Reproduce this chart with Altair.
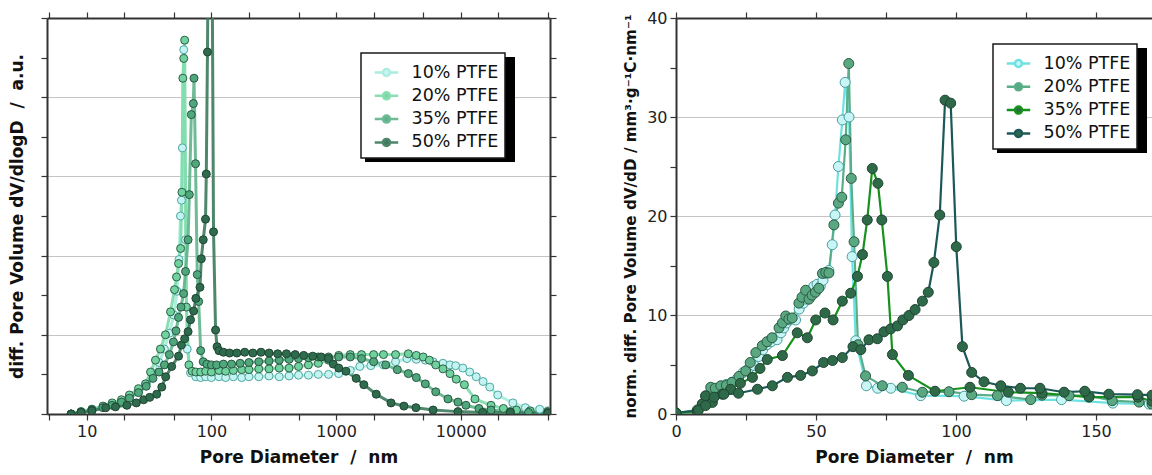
import altair as alt
import pandas as pd

SERIES = ["10% PTFE", "20% PTFE", "35% PTFE", "50% PTFE"]

# ---------------- left panel: dV/dlogD (a.u.) vs pore diameter (nm, log) ----------------
L10_D = [7.5, 9, 11, 13.5, 16, 19, 22, 26, 30, 34, 38, 42, 46, 50, 53, 55, 56.5, 57.5, 58.5, 60,
         62, 64, 68, 75, 82, 90, 100, 115, 130, 150, 175, 200, 240, 290, 350, 420, 500, 600, 720, 870,
         1050, 1300, 1550, 1900, 2400, 3000, 3700, 4400, 5200, 6000, 7200, 8200, 9100, 10400, 11800,
         13300, 15100, 17100, 19800, 26200, 33000, 43000, 50000]
L10_V = [0.0, 0.03, 0.06, 0.09, 0.12, 0.15, 0.2, 0.28, 0.38, 0.5, 0.65, 0.82, 1.02, 1.25, 1.55, 1.95,
         2.5, 2.7, 3.36, 4.6, 2.2, 0.82, 0.52, 0.47, 0.46, 0.47, 0.46, 0.47, 0.46, 0.47, 0.46, 0.47,
         0.47, 0.48, 0.47, 0.48, 0.49, 0.49, 0.5, 0.5, 0.51, 0.55, 0.6, 0.61, 0.62, 0.66, 0.70, 0.69,
         0.68, 0.66, 0.64, 0.62, 0.61, 0.58, 0.53, 0.47, 0.41, 0.34, 0.24, 0.14, 0.08, 0.06, 0.04]

L20_D = [7.5, 9, 11, 13.5, 16, 19, 22, 26, 29.6, 32.5, 35.6, 39, 42.8, 47, 50.6, 52.5, 54.5, 56.6, 58,
         59, 60, 61, 63, 66, 70, 75, 82, 90, 100, 115, 130, 150, 175, 200, 240, 290, 350, 420, 500,
         600, 720, 870, 1050, 1300, 1600, 2000, 2400, 3000, 3800, 4400, 5000, 5600, 6300, 7200, 8200,
         9200, 10700, 13000, 17500, 22000, 28000, 36000, 50000]
L20_V = [0.0, 0.03, 0.06, 0.1, 0.14, 0.18, 0.24, 0.32, 0.38, 0.53, 0.68, 0.82, 1.0, 1.29, 1.57, 1.73,
         1.9, 2.09, 2.8, 4.24, 4.49, 4.72, 1.35, 0.62, 0.54, 0.53, 0.53, 0.54, 0.53, 0.55, 0.54, 0.55,
         0.56, 0.56, 0.57, 0.57, 0.58, 0.58, 0.6, 0.62, 0.64, 0.68, 0.74, 0.75, 0.75, 0.75, 0.75,
         0.75, 0.76, 0.74, 0.72, 0.68, 0.62, 0.57, 0.51, 0.44, 0.37, 0.19, 0.11, 0.07, 0.05, 0.04, 0.03]

L35_D = [7.5, 9, 11, 13.5, 16, 19, 22, 26, 30, 34, 38, 42, 46, 49.6, 52, 54.5, 57, 59.8, 62, 65,
         66.5, 69, 71.6, 72.5, 74.6, 77, 79, 82, 86, 92, 100, 110, 125, 145, 170, 200, 240, 290, 350,
         420, 500, 600, 720, 870, 1050, 1300, 1600, 2000, 2500, 3100, 3800, 4400, 5200, 6300, 7900,
         9500, 11000, 14000, 17500, 25000, 35000, 50000]
L35_V = [0.0, 0.02, 0.05, 0.08, 0.11, 0.15, 0.2, 0.27, 0.35, 0.45, 0.53, 0.62, 0.75, 0.91, 1.05,
         1.22, 1.35, 1.52, 1.8, 2.2, 2.77, 3.78, 3.92, 4.24, 3.16, 1.76, 1.42, 0.8, 0.66, 0.63, 0.62,
         0.62, 0.63, 0.63, 0.64, 0.65, 0.66, 0.67, 0.68, 0.69, 0.7, 0.71, 0.72, 0.72, 0.72, 0.72, 0.7,
         0.66, 0.62, 0.56, 0.51, 0.46, 0.38, 0.28, 0.19, 0.15, 0.11, 0.07, 0.05, 0.03, 0.02, 0.02]

L50_D = [7.5, 9, 11, 14.2, 17, 21, 25, 28.6, 32, 36.4, 40, 43, 48, 54.5, 57.5, 61, 65, 68, 72, 75,
         81, 83, 86, 89.7, 91, 93, 96, 100, 104, 108, 111, 115, 125, 140, 160, 185, 215, 250, 290,
         340, 400, 470, 550, 650, 760, 870, 950, 1050, 1200, 1450, 1670, 2100, 2760, 3500, 4370,
         6000, 9500, 15000, 25000, 50000]
L50_V = [0.0, 0.02, 0.04, 0.08, 0.09, 0.11, 0.14, 0.18, 0.21, 0.25, 0.34, 0.47, 0.6, 0.73, 0.87,
         0.95, 1.04, 1.19, 1.3, 1.46, 1.6, 1.96, 2.2, 2.46, 3.03, 4.57, 7.5, 7.5, 2.3, 1.06, 0.85,
         0.8, 0.78, 0.77, 0.77, 0.78, 0.77, 0.78, 0.77, 0.76, 0.76, 0.75, 0.74, 0.73, 0.72, 0.7,
         0.63, 0.58, 0.54, 0.45, 0.37, 0.25, 0.14, 0.1, 0.08, 0.05, 0.03, 0.02, 0.02, 0.01]

# ---------------- right panel: dV/dD (mm3 g-1 nm-1) vs pore diameter (nm, linear) ----------------
R10_D = [0, 7.6, 10, 12, 14, 16, 18, 20, 22, 24, 26, 27.9, 29.5, 31, 32.5, 34, 36.1, 37.5, 38.5,
         39.5, 40.5, 42.7, 44, 45.5, 46.5, 48, 49.2, 50.4, 51.5, 52.5, 53.5, 54.6, 55.8, 56.8, 58,
         59.4, 60.4, 61.8, 62.9, 64.2, 68, 72, 76.7, 87.4, 102.9, 118, 137.7, 156, 169]
R10_V = [0.1, 0.3, 1.0, 2.0, 2.5, 2.8, 3.0, 3.2, 3.6, 4.2, 4.6, 4.9, 5.8, 6.5, 7.0, 7.3, 7.5, 8.2,
         8.7, 9.2, 9.5, 9.5, 10.6, 11.2, 11.6, 12.5, 12.9, 13.1, 12.9, 13.5, 14.2, 14.5, 17.1, 20.1,
         25.0, 29.7, 33.5, 30.0, 15.9, 7.4, 2.85, 2.6, 2.6, 1.85, 1.8, 1.35, 1.45, 1.1, 1.0]

R20_D = [0, 7.6, 9.4, 10.6, 12.4, 14, 16, 18, 20, 22.5, 24.9, 26.5, 28.5, 30.8, 32.5, 34.3, 36.8,
         38, 39.2, 40.3, 41.5, 43.9, 45, 46.3, 47.5, 48.6, 49.8, 51, 52.3, 53.5, 54.6, 56.4, 58.0,
         59.2, 60.6, 61.7, 62.6, 63.6, 65, 67.7, 73.7, 80.8, 88, 97.5, 105.6, 114.8, 126.7, 130.7,
         140.4, 147.5, 155.8, 165.4, 170]
R20_V = [0.1, 0.4, 1.0, 1.8, 2.7, 2.6, 2.85, 2.9, 3.2, 3.8, 4.35, 5.2, 6.2, 6.9, 7.3, 7.7, 8.7,
         9.2, 9.9, 9.6, 9.7, 11.2, 11.8, 12.5, 11.6, 12.0, 12.3, 12.7, 14.2, 14.3, 14.25, 19.1,
         21.3, 21.9, 27.7, 35.4, 23.8, 17.4, 7.0, 3.85, 2.85, 2.7, 2.2, 2.25, 1.95, 1.85, 1.45, 1.9,
         1.85, 1.85, 1.35, 1.2, 1.0]

R35_D = [0, 7.6, 9.4, 10.6, 13, 16.5, 19.5, 23, 27.3, 30, 32.6, 38, 43.3, 46.9, 49.9, 53.2, 56.1,
         59.4, 62.4, 64.8, 66.6, 68.3, 70.1, 72.1, 73.5, 75.5, 77.3, 83, 92.5, 105, 118.7, 130.7,
         147.5, 165, 170]
R35_V = [0.1, 0.23, 1.0, 1.84, 1.17, 2.0, 2.5, 3.1, 3.7, 4.6, 5.5, 5.9, 8.2, 7.7, 9.5, 10.2, 9.5,
         11.4, 12.2, 13.9, 16.1, 19.6, 24.8, 23.3, 19.6, 13.9, 6.0, 3.9, 2.3, 2.7, 2.2, 2.1, 1.7,
         1.7, 1.3]

R50_D = [0, 8, 10.6, 13.6, 17.1, 22.3, 29.1, 34.4, 39.8, 44.5, 48.7, 52.7, 55.9, 59.4, 63.2, 66,
         68.9, 71.9, 74.3, 76.7, 79.1, 81, 83.2, 85.4, 88, 90.1, 92.1, 94.2, 96.1, 98.1, 100.1,
         102.3, 105.6, 110, 116, 123, 130, 138.6, 146, 154.6, 164.8, 170]
R50_V = [0.1, 0.4, 0.85, 1.7, 2.0, 2.1, 2.5, 2.85, 3.7, 3.9, 4.35, 5.2, 5.4, 5.7, 6.8, 6.5, 7.5,
         7.6, 8.3, 8.6, 8.9, 9.5, 9.95, 10.55, 11.4, 12.3, 15.3, 20.1, 31.7, 31.4, 16.9, 6.8, 4.2,
         3.25, 2.85, 2.6, 2.6, 2.2, 2.3, 2.0, 1.95, 1.9]

LX_TICKS = [5, 10, 20, 50, 100, 200, 500, 1000, 2000, 5000, 10000, 20000, 50000]
LY_TICKS = [0, 0.5, 1, 1.5, 2, 2.5, 3, 3.5, 4, 4.5, 5]
RX_TICKS = [0, 25, 50, 75, 100, 125, 150]
RY_TICKS = [0, 5, 10, 15, 20, 25, 30, 35, 40]

LEFT_LINE = ["#a4ecdc", "#7ddcaa", "#5eb489", "#3b7a5c"]
LEFT_FILL = ["#c4f4f2", "#70d29e", "#4fa87c", "#2f6c4d"]
LEFT_PSTROKE = ["#4fa8a2", "#2f6048", "#2a5642", "#1f4434"]
RIGHT_LINE = ["#6ee2e2", "#5aae8a", "#16921c", "#1d5858"]
RIGHT_FILL = ["#c8f6f6", "#5aa882", "#2f6a48", "#2e6a4a"]
RIGHT_PSTROKE = ["#4a9c9c", "#2a5a44", "#1f4432", "#1f4432"]

FONT = "DejaVu Sans"
SYMBOL = "M-1,0L-0.3,0M0.3,0L1,0M0.3,0A0.3,0.3 0 1 1 -0.3,0A0.3,0.3 0 1 1 0.3,0Z"


def long_frame(pairs):
    rows = []
    for name, (ds, vs) in zip(SERIES, pairs):
        for d, v in zip(ds, vs):
            rows.append({"series": name, "D": d, "V": v})
    return pd.DataFrame(rows)


left_df = long_frame([(L10_D, L10_V), (L20_D, L20_V), (L35_D, L35_V), (L50_D, L50_V)])
right_df = long_frame([(R10_D, R10_V), (R20_D, R20_V), (R35_D, R35_V), (R50_D, R50_V)])


def legend(x, y):
    return alt.Legend(orient="none", legendX=x, legendY=y, title=None, fillColor="white",
                      strokeColor="#1a1a1a", padding=6.5, labelFont=FONT, labelFontSize=17.5,
                      labelColor="#111111", symbolType=SYMBOL, symbolSize=550,
                      symbolStrokeWidth=2.5, rowPadding=1.3, labelOffset=12, symbolOffset=6,
                      labelExpr="datum.label + '\u00a0\u00a0\u00a0'")


def shadow(x, y, w, h):
    return alt.Chart(pd.DataFrame({"k": [0]})).mark_rect(color="#000000").encode(
        x=alt.value(x + 4), x2=alt.value(x + w + 4), y=alt.value(y + 4), y2=alt.value(y + h + 4))


NB = "\u00a0"
XTITLE = f"Pore Diameter{NB}{NB}/{NB}{NB}nm"
grid_int = {"condition": {"test": "datum.value % 1 === 0", "value": 1}, "value": 0}
grid_ten = {"condition": {"test": "datum.value % 10 === 0 && datum.value > 0 && datum.value < 40",
                          "value": 1}, "value": 0}

# ---------------- left chart ----------------
legL = legend(314, 35)
lines_l = alt.Chart(left_df).mark_line(strokeWidth=3, clip=True, opacity=0.9).encode(
    x=alt.X("D:Q", scale=alt.Scale(type="log", domain=[4.8, 52000], nice=False),
            axis=alt.Axis(orient="bottom", values=LX_TICKS, format="d",
                          labelExpr="indexof([10, 100, 1000, 10000], datum.value) >= 0 ? datum.label : ''",
                          title=XTITLE, grid=False, tickSize=6, labelPadding=3, titlePadding=10,
                          titleFontSize=17, labelFlush=False, labelOverlap=False)),
    y=alt.Y("V:Q", scale=alt.Scale(domain=[0, 5], nice=False),
            axis=alt.Axis(orient="left", values=LY_TICKS, labels=False, grid=False, tickSize=6,
                          title=f"diff. Pore Volume dV/dlogD{NB}{NB}/{NB}{NB}a.u.", titlePadding=14,
                          titleFontSize=17)),
    color=alt.Color("series:N", scale=alt.Scale(domain=SERIES, range=LEFT_LINE), legend=legL),
    order=alt.Order("D:Q"),
)
points_l = alt.Chart(left_df).mark_circle(size=64, strokeWidth=1, opacity=1, clip=True).encode(
    x=alt.X("D:Q", axis=alt.Axis(orient="top", values=LX_TICKS, labels=False, title=None,
                                 grid=False, tickSize=6)),
    y=alt.Y("V:Q", axis=alt.Axis(orient="right", values=LY_TICKS, labels=False, title=None,
                                 grid=True, gridColor="#c4c4c4", gridOpacity=grid_int, tickSize=6)),
    fill=alt.Fill("series:N", scale=alt.Scale(domain=SERIES, range=LEFT_FILL), legend=legL),
    stroke=alt.Stroke("series:N", scale=alt.Scale(domain=SERIES, range=LEFT_PSTROKE), legend=None),
)
left = alt.layer(shadow(314, 35, 150, 105), lines_l, points_l).resolve_axis(
    x="independent", y="independent").properties(width=503, height=396)

# ---------------- right chart ----------------
legR = legend(317, 26)
lines_r = alt.Chart(right_df).mark_line(strokeWidth=2.2, clip=True).encode(
    x=alt.X("D:Q", scale=alt.Scale(domain=[0, 170], nice=False),
            axis=alt.Axis(orient="bottom", values=RX_TICKS,
                          labelExpr="datum.value % 50 === 0 ? datum.label : ''",
                          title=XTITLE, grid=False, tickSize=6, labelPadding=3, titlePadding=10,
                          titleFontSize=17, labelFlush=False, labelOverlap=False)),
    y=alt.Y("V:Q", scale=alt.Scale(domain=[0, 40], nice=False),
            axis=alt.Axis(orient="left", values=RY_TICKS,
                          labelExpr="datum.value % 10 === 0 ? datum.label : ''",
                          grid=True, gridColor="#c4c4c4", gridOpacity=grid_ten, tickSize=6,
                          labelPadding=3, labelFlush=False, labelOverlap=False,
                          title="norm. diff. Pore Volume dV/dD / mm³·g⁻¹C·nm⁻¹",
                          titlePadding=8, titleFontSize=15.2)),
    color=alt.Color("series:N", scale=alt.Scale(domain=SERIES, range=RIGHT_LINE), legend=legR),
    order=alt.Order("D:Q"),
)
points_r = alt.Chart(right_df).mark_circle(size=100, strokeWidth=1, opacity=1, clip=True).encode(
    x=alt.X("D:Q", axis=alt.Axis(orient="top", values=RX_TICKS, labels=False, title=None,
                                 grid=False, tickSize=6)),
    y=alt.Y("V:Q", axis=None),
    fill=alt.Fill("series:N", scale=alt.Scale(domain=SERIES, range=RIGHT_FILL), legend=legR),
    stroke=alt.Stroke("series:N", scale=alt.Scale(domain=SERIES, range=RIGHT_PSTROKE), legend=None),
)
right = alt.layer(shadow(317, 26, 150, 105), lines_r, points_r).resolve_axis(
    x="independent", y="independent").properties(width=476, height=396)

chart = alt.hconcat(left, right, spacing=66).resolve_scale(
    color="independent", fill="independent", stroke="independent"
).properties(
    padding={"left": 8, "top": 10, "right": 0, "bottom": 0}
).configure_view(stroke=None).configure_axis(
    domainColor="#333333", domainWidth=2, tickColor="#333333", tickWidth=1.2,
    labelFont=FONT, labelFontSize=16, labelColor="#222222",
    titleFont=FONT, titleFontWeight="bold", titleColor="#111111",
).configure_legend(strokeWidth=1.5)

chart.save("out.html", embed_options={"renderer": "svg", "actions": False})
